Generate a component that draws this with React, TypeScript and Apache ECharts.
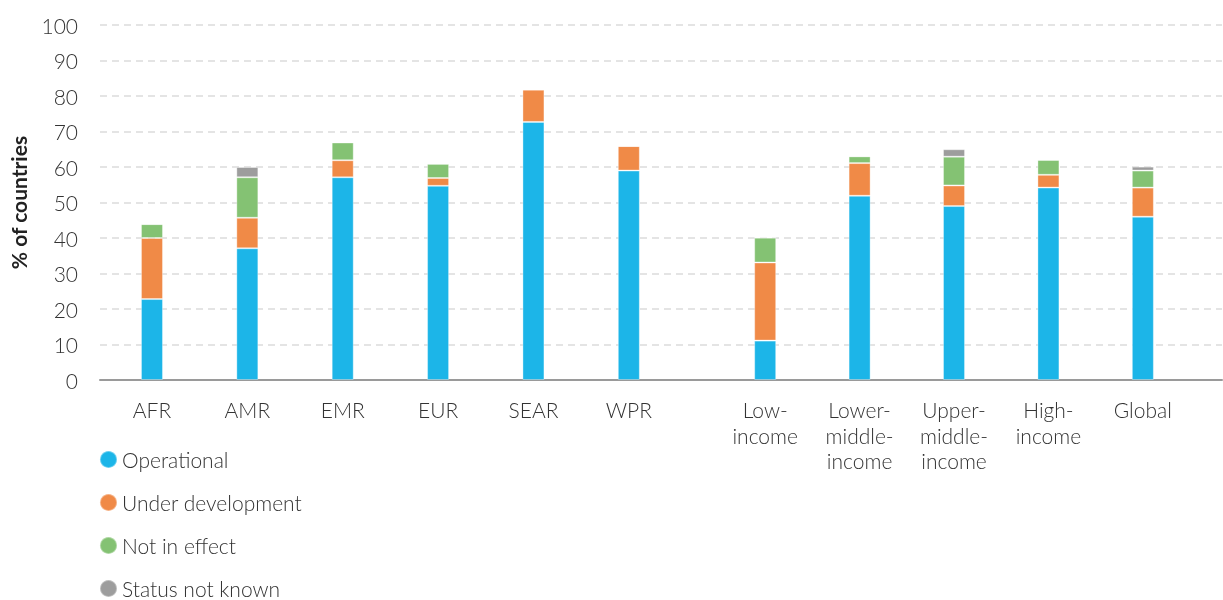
import React, { useEffect, useRef } from "react";
import * as echarts from "echarts";

const categories = ["AFR", "AMR", "EMR", "EUR", "SEAR", "WPR", "Low-\nincome", "Lower-\nmiddle-\nincome", "Upper-\nmiddle-\nincome", "High-\nincome", "Global"];
// position of each category along the x axis (regions, then a gap, then income groups)
const positions = [0, 1, 2, 3, 4, 5, 6.43, 7.42, 8.41, 9.4, 10.39];

const operational = [22.8, 37.1, 57.1, 54.7, 72.7, 59.0, 11.1, 51.9, 49.0, 54.2, 46.0];
const underDevelopment = [17.2, 8.6, 4.8, 2.2, 9.1, 6.9, 22.0, 9.2, 5.8, 3.6, 8.2];
const notInEffect = [3.9, 11.4, 5.0, 4.0, 0, 0, 7.0, 1.9, 8.1, 4.2, 4.8];
const statusNotKnown = [0, 2.9, 0, 0, 0, 0, 0, 0, 2.1, 0, 1.1];

const yTicks = { min: 0, max: 100, interval: 10 };

const seriesNames = ["Operational", "Under development", "Not in effect", "Status not known"];
const colors = ["#1CB5E8", "#F08A47", "#84C273", "#9D9D9D"];

const FONT = "Lato";
const FS = 21;

export default function App() {
  const ref = useRef<HTMLDivElement>(null);
  useEffect(() => {
    if (!ref.current) return;
    const chart = echarts.init(ref.current, undefined, { renderer: "svg" });
    const values = [operational, underDevelopment, notInEffect, statusNotKnown];
    chart.setOption({
      animation: false,
      textStyle: { fontFamily: FONT },
      grid: { left: 100, right: 1, top: 25, bottom: 220, containLabel: false, outerBoundsMode: "none" },
      legend: {
        orient: "vertical",
        left: 99,
        top: 449,
        height: 200,
        padding: 0,
        icon: "circle",
        itemWidth: 17,
        itemHeight: 17,
        itemGap: 22,
        data: seriesNames,
        textStyle: { fontFamily: FONT, fontSize: FS, color: "#333", fontWeight: 300, lineHeight: 21, padding: [0, 0, 0, 0] },
      },
      xAxis: {
        type: "value",
        min: -0.545,
        max: 11.22,
        splitLine: { show: false },
        axisTick: { show: false },
        axisLine: { show: true, lineStyle: { color: "#9a9a9a", width: 2 } },
        axisLabel: {
          customValues: positions,
          formatter: (v: number) => {
            let best = 0;
            positions.forEach((p, i) => {
              if (Math.abs(p - v) < Math.abs(positions[best] - v)) best = i;
            });
            return categories[best];
          },
          margin: 17,
          fontFamily: FONT,
          fontSize: FS,
          fontWeight: 300,
          color: "#333",
          lineHeight: 25.5,
          verticalAlign: "top",
        },
      },
      yAxis: {
        type: "value",
        min: yTicks.min,
        max: yTicks.max,
        interval: yTicks.interval,
        name: "% of countries",
        nameLocation: "middle",
        nameGap: 71,
        nameTextStyle: { fontFamily: FONT, fontSize: FS, fontWeight: "bold", color: "#222" },
        axisLine: { show: false },
        axisTick: { show: false },
        axisLabel: { fontFamily: FONT, fontSize: FS, fontWeight: 300, color: "#333", margin: 22 },
        splitLine: { lineStyle: { color: "#dcdcdc", type: [7, 5], width: 1.5 } },
      },
      series: seriesNames.map((name, s) => ({
        name,
        type: "bar",
        stack: "total",
        barWidth: 22,
        // value first so the stack is computed on the y dimension
        encode: { x: 1, y: 0 },
        itemStyle: { color: colors[s], borderColor: "rgba(255,255,255,0.35)", borderWidth: 1 },
        data: positions.map((p, i) => [values[s][i], p]),
      })),
    });
    return () => chart.dispose();
  }, []);
  return (
    <div
      ref={ref}
      style={{ position: "fixed", left: 0, top: 0, width: 1223, height: 600 }}
    />
  );
}
